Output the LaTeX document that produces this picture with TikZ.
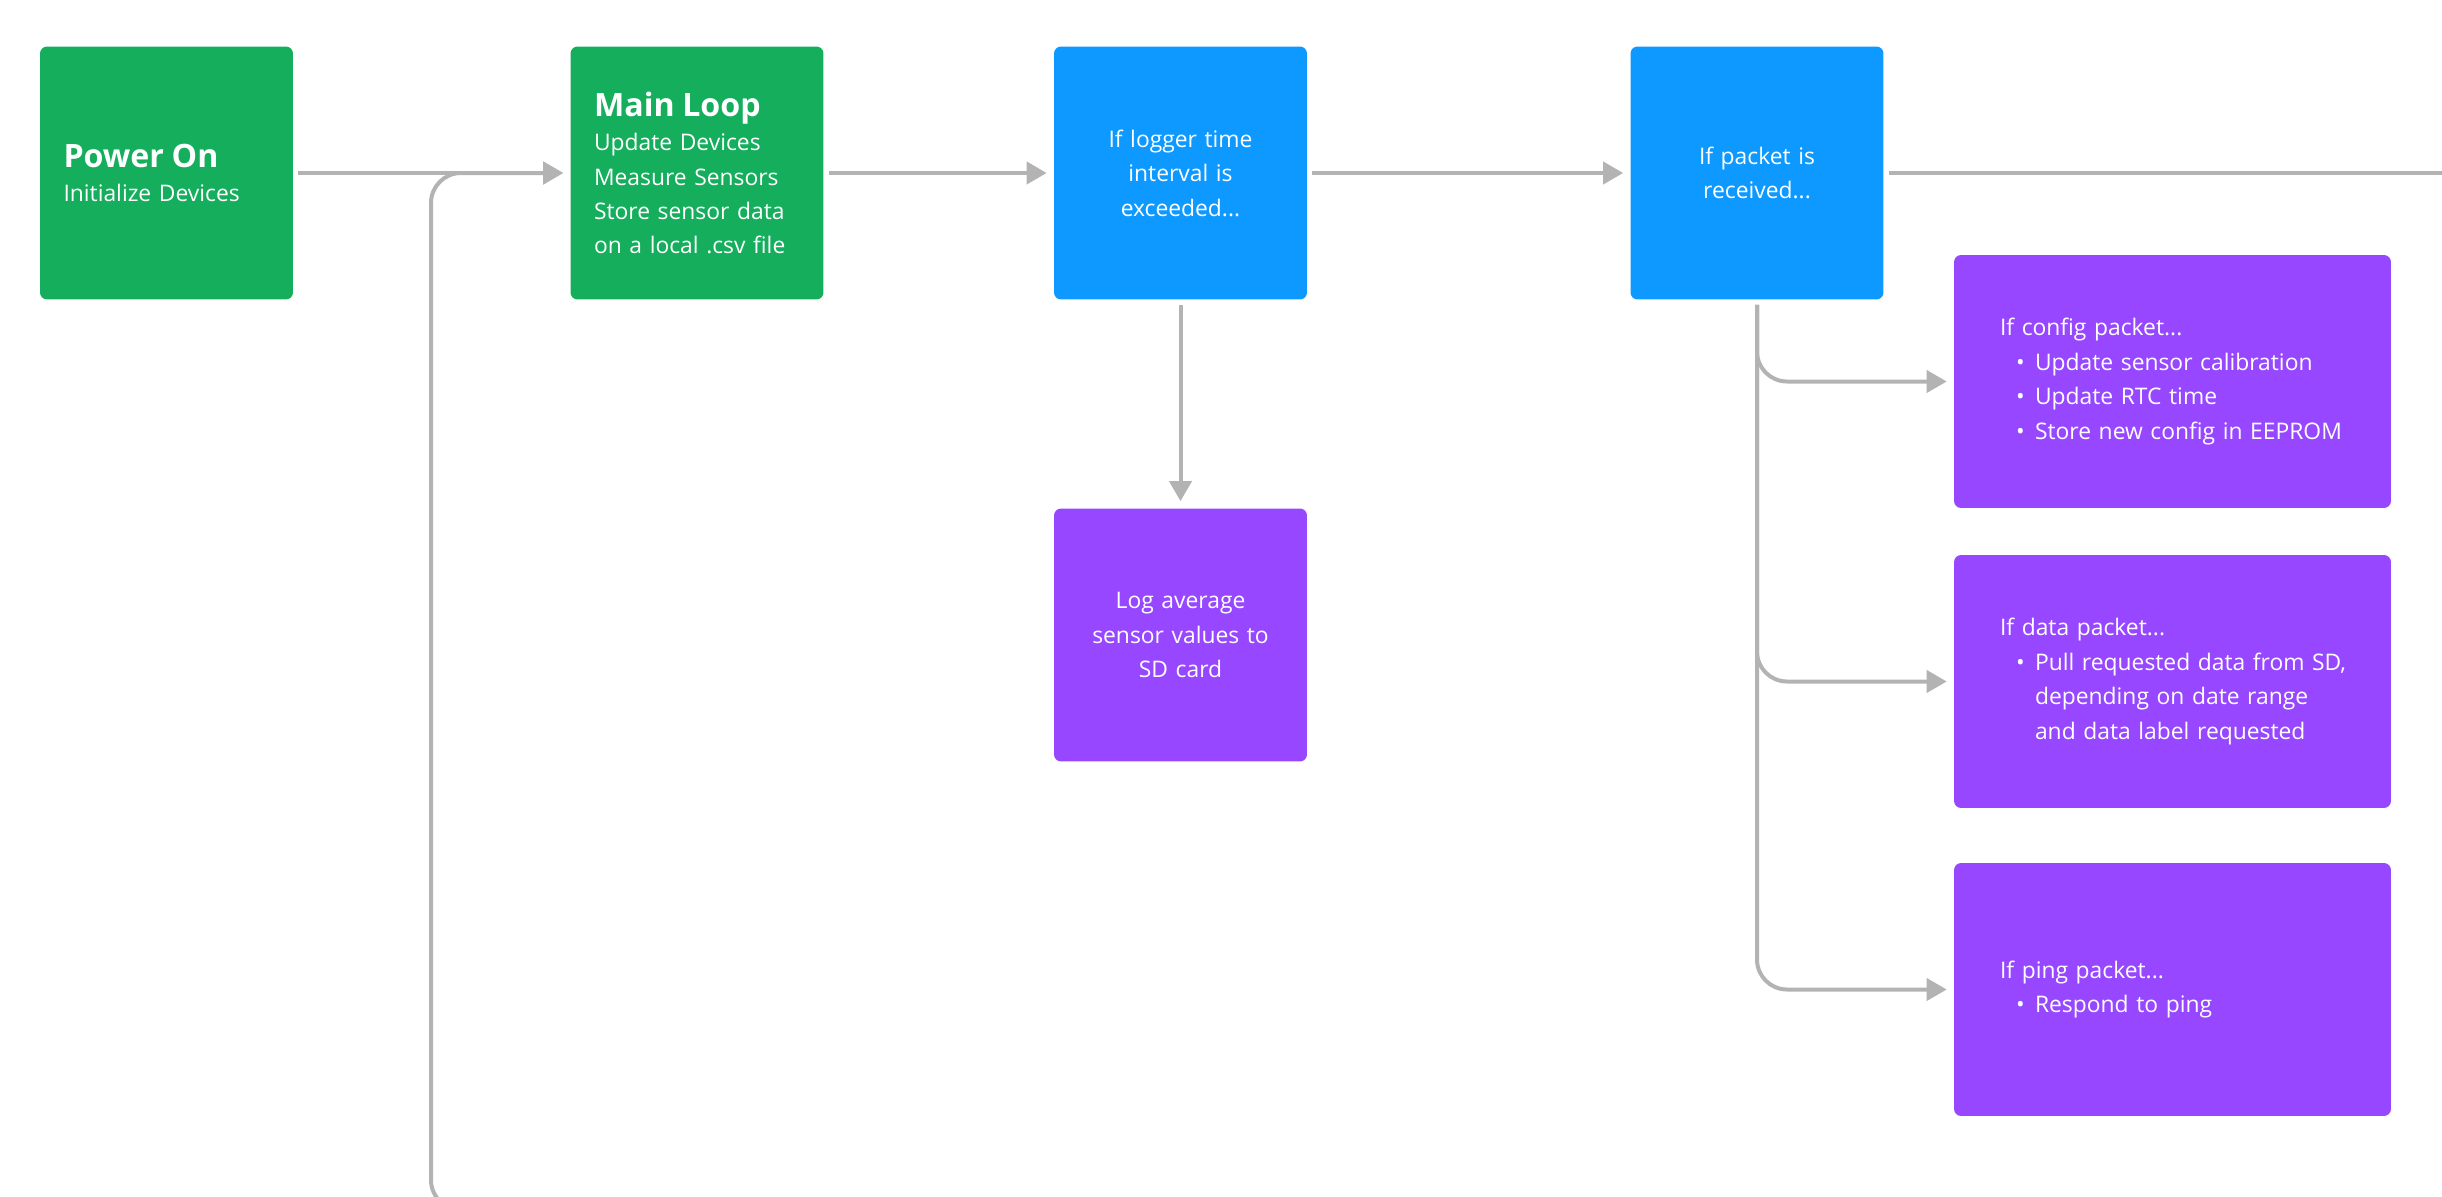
\documentclass[tikz,border=0pt]{standalone}
\usepackage{fontspec}
\setmainfont{Open Sans}
\usepackage{tikz}
\usetikzlibrary{arrows.meta}
\definecolor{stepgreen}{HTML}{14AE5C}
\definecolor{checkblue}{HTML}{0D99FF}
\definecolor{actpurple}{HTML}{9747FF}
\definecolor{wire}{HTML}{B3B3B3}
\newcommand{\bodyfont}{\fontsize{13}{19.6}\selectfont}
\newcommand{\headfont}{\fontsize{18.3}{20}\selectfont\bfseries}
\newcommand{\bitem}[1]{\hspace*{0.32cm}\makebox[0.38cm][l]{\textbullet}\mbox{#1}}
\newcommand{\bcont}[1]{\hspace*{0.70cm}\mbox{#1}}
\tikzset{
  card/.style={rounded corners=0.14cm, text=white, font=\bodyfont,
    minimum width=5.06cm, minimum height=5.06cm, inner ysep=0pt,
    inner xsep=0.47cm, text width=4.12cm},
  startcard/.style={card, fill=stepgreen, align=left},
  testcard/.style={card, fill=checkblue, align=center},
  actcard/.style={card, fill=actpurple, align=center},
  listcard/.style={card, fill=actpurple, align=left, minimum width=8.74cm,
    inner xsep=0.92cm, text width=6.9cm},
  flow/.style={draw=wire, line width=0.08cm, -{Triangle[length=0.4cm,width=0.44cm]},
    shorten <=0.1cm, shorten >=0.14cm},
  wireline/.style={draw=wire, line width=0.08cm, shorten <=0.1cm}
}
\begin{document}
\begin{tikzpicture}[x=0.02cm, y=-0.02cm]
  \useasboundingbox (0,0) rectangle (2442,1197);
  \clip (0,0) rectangle (2442,1197);
  % top row
  \node[startcard] (power) at (166.5,173) {{\headfont Power On}\\Initialize Devices};
  \node[startcard] (main) at (697,173) {{\headfont Main Loop}\\Update Devices\\Measure Sensors\\Store sensor data\\on a local .csv file};
  \node[testcard] (logger) at (1180.5,173) {If logger time\\interval is\\exceeded...};
  \node[testcard] (packet) at (1757,173) {If packet is\\received...};
  % actions
  \node[actcard] (logsd) at (1180.5,635) {Log average\\sensor values to\\SD card};
  \node[listcard] (config) at (2172.5,381.5) {If config packet...\\\bitem{Update sensor calibration}\\\bitem{Update RTC time}\\\bitem{Store new config in EEPROM}};
  \node[listcard] (datapk) at (2172.5,681.5) {If data packet...\\\bitem{Pull requested data from SD,}\\\bcont{depending on date range}\\\bcont{and data label requested}};
  \node[listcard] (ping) at (2172.5,989.5) {If ping packet...\\\bitem{Respond to ping}};
  % loose ends, off the page
  \coordinate (back) at (900,1210);
  \coordinate (loopx) at (431,1210);
  \coordinate (away) at (2470,173);
  % connectors
  \draw[flow] (power) -- (main);
  \draw[flow, rounded corners=0.6cm] (back) -- (loopx) |- (main.west);
  \draw[flow] (main) -- (logger);
  \draw[flow] (logger) -- (packet);
  \draw[flow] (logger) -- (logsd);
  \draw[wireline] (packet) -- (away);
  \draw[flow, rounded corners=0.6cm] (packet.south) |- (config.west);
  \draw[flow, rounded corners=0.6cm] (packet.south) |- (datapk.west);
  \draw[flow, rounded corners=0.6cm] (packet.south) |- (ping.west);
\end{tikzpicture}
\end{document}
